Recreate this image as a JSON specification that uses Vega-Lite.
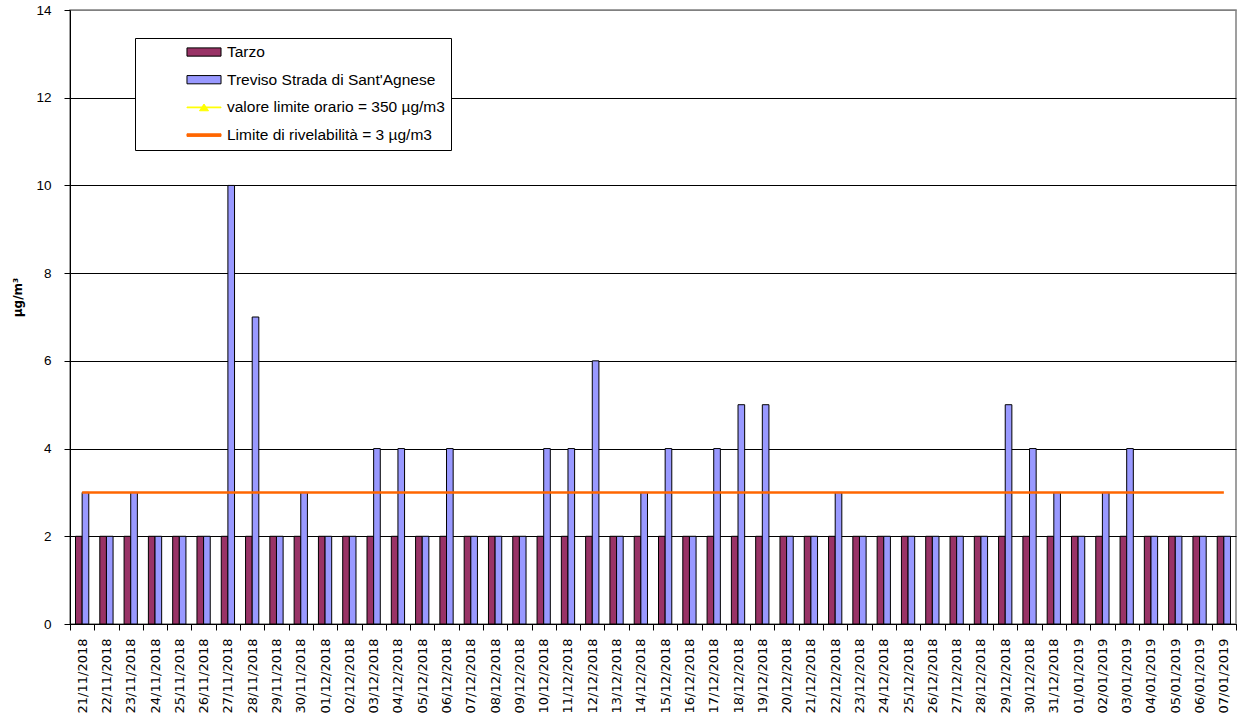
{
  "$schema": "https://vega.github.io/schema/vega-lite/v6.json",
  "width": 1166,
  "height": 614,
  "autosize": "none",
  "padding": {"left": 70, "top": 10, "right": 2, "bottom": 99},
  "background": "white",
  "config": {
    "view": {"stroke": "#808080", "strokeWidth": 1.5},
    "font": "Liberation Sans",
    "axis": {"domainColor": "black", "tickColor": "black", "labelColor": "black", "titleColor": "black"}
  },
  "data": {
    "values": [
      {"data": "2018-11-21", "stazione": "Tarzo", "valore": 2}, {"data": "2018-11-21", "stazione": "Treviso Strada di Sant'Agnese", "valore": 3}, {"data": "2018-11-21", "stazione": "Limite di rivelabilità = 3 µg/m3", "valore": 3},
      {"data": "2018-11-22", "stazione": "Tarzo", "valore": 2}, {"data": "2018-11-22", "stazione": "Treviso Strada di Sant'Agnese", "valore": 2}, {"data": "2018-11-22", "stazione": "Limite di rivelabilità = 3 µg/m3", "valore": 3},
      {"data": "2018-11-23", "stazione": "Tarzo", "valore": 2}, {"data": "2018-11-23", "stazione": "Treviso Strada di Sant'Agnese", "valore": 3}, {"data": "2018-11-23", "stazione": "Limite di rivelabilità = 3 µg/m3", "valore": 3},
      {"data": "2018-11-24", "stazione": "Tarzo", "valore": 2}, {"data": "2018-11-24", "stazione": "Treviso Strada di Sant'Agnese", "valore": 2}, {"data": "2018-11-24", "stazione": "Limite di rivelabilità = 3 µg/m3", "valore": 3},
      {"data": "2018-11-25", "stazione": "Tarzo", "valore": 2}, {"data": "2018-11-25", "stazione": "Treviso Strada di Sant'Agnese", "valore": 2}, {"data": "2018-11-25", "stazione": "Limite di rivelabilità = 3 µg/m3", "valore": 3},
      {"data": "2018-11-26", "stazione": "Tarzo", "valore": 2}, {"data": "2018-11-26", "stazione": "Treviso Strada di Sant'Agnese", "valore": 2}, {"data": "2018-11-26", "stazione": "Limite di rivelabilità = 3 µg/m3", "valore": 3},
      {"data": "2018-11-27", "stazione": "Tarzo", "valore": 2}, {"data": "2018-11-27", "stazione": "Treviso Strada di Sant'Agnese", "valore": 10}, {"data": "2018-11-27", "stazione": "Limite di rivelabilità = 3 µg/m3", "valore": 3},
      {"data": "2018-11-28", "stazione": "Tarzo", "valore": 2}, {"data": "2018-11-28", "stazione": "Treviso Strada di Sant'Agnese", "valore": 7}, {"data": "2018-11-28", "stazione": "Limite di rivelabilità = 3 µg/m3", "valore": 3},
      {"data": "2018-11-29", "stazione": "Tarzo", "valore": 2}, {"data": "2018-11-29", "stazione": "Treviso Strada di Sant'Agnese", "valore": 2}, {"data": "2018-11-29", "stazione": "Limite di rivelabilità = 3 µg/m3", "valore": 3},
      {"data": "2018-11-30", "stazione": "Tarzo", "valore": 2}, {"data": "2018-11-30", "stazione": "Treviso Strada di Sant'Agnese", "valore": 3}, {"data": "2018-11-30", "stazione": "Limite di rivelabilità = 3 µg/m3", "valore": 3},
      {"data": "2018-12-01", "stazione": "Tarzo", "valore": 2}, {"data": "2018-12-01", "stazione": "Treviso Strada di Sant'Agnese", "valore": 2}, {"data": "2018-12-01", "stazione": "Limite di rivelabilità = 3 µg/m3", "valore": 3},
      {"data": "2018-12-02", "stazione": "Tarzo", "valore": 2}, {"data": "2018-12-02", "stazione": "Treviso Strada di Sant'Agnese", "valore": 2}, {"data": "2018-12-02", "stazione": "Limite di rivelabilità = 3 µg/m3", "valore": 3},
      {"data": "2018-12-03", "stazione": "Tarzo", "valore": 2}, {"data": "2018-12-03", "stazione": "Treviso Strada di Sant'Agnese", "valore": 4}, {"data": "2018-12-03", "stazione": "Limite di rivelabilità = 3 µg/m3", "valore": 3},
      {"data": "2018-12-04", "stazione": "Tarzo", "valore": 2}, {"data": "2018-12-04", "stazione": "Treviso Strada di Sant'Agnese", "valore": 4}, {"data": "2018-12-04", "stazione": "Limite di rivelabilità = 3 µg/m3", "valore": 3},
      {"data": "2018-12-05", "stazione": "Tarzo", "valore": 2}, {"data": "2018-12-05", "stazione": "Treviso Strada di Sant'Agnese", "valore": 2}, {"data": "2018-12-05", "stazione": "Limite di rivelabilità = 3 µg/m3", "valore": 3},
      {"data": "2018-12-06", "stazione": "Tarzo", "valore": 2}, {"data": "2018-12-06", "stazione": "Treviso Strada di Sant'Agnese", "valore": 4}, {"data": "2018-12-06", "stazione": "Limite di rivelabilità = 3 µg/m3", "valore": 3},
      {"data": "2018-12-07", "stazione": "Tarzo", "valore": 2}, {"data": "2018-12-07", "stazione": "Treviso Strada di Sant'Agnese", "valore": 2}, {"data": "2018-12-07", "stazione": "Limite di rivelabilità = 3 µg/m3", "valore": 3},
      {"data": "2018-12-08", "stazione": "Tarzo", "valore": 2}, {"data": "2018-12-08", "stazione": "Treviso Strada di Sant'Agnese", "valore": 2}, {"data": "2018-12-08", "stazione": "Limite di rivelabilità = 3 µg/m3", "valore": 3},
      {"data": "2018-12-09", "stazione": "Tarzo", "valore": 2}, {"data": "2018-12-09", "stazione": "Treviso Strada di Sant'Agnese", "valore": 2}, {"data": "2018-12-09", "stazione": "Limite di rivelabilità = 3 µg/m3", "valore": 3},
      {"data": "2018-12-10", "stazione": "Tarzo", "valore": 2}, {"data": "2018-12-10", "stazione": "Treviso Strada di Sant'Agnese", "valore": 4}, {"data": "2018-12-10", "stazione": "Limite di rivelabilità = 3 µg/m3", "valore": 3},
      {"data": "2018-12-11", "stazione": "Tarzo", "valore": 2}, {"data": "2018-12-11", "stazione": "Treviso Strada di Sant'Agnese", "valore": 4}, {"data": "2018-12-11", "stazione": "Limite di rivelabilità = 3 µg/m3", "valore": 3},
      {"data": "2018-12-12", "stazione": "Tarzo", "valore": 2}, {"data": "2018-12-12", "stazione": "Treviso Strada di Sant'Agnese", "valore": 6}, {"data": "2018-12-12", "stazione": "Limite di rivelabilità = 3 µg/m3", "valore": 3},
      {"data": "2018-12-13", "stazione": "Tarzo", "valore": 2}, {"data": "2018-12-13", "stazione": "Treviso Strada di Sant'Agnese", "valore": 2}, {"data": "2018-12-13", "stazione": "Limite di rivelabilità = 3 µg/m3", "valore": 3},
      {"data": "2018-12-14", "stazione": "Tarzo", "valore": 2}, {"data": "2018-12-14", "stazione": "Treviso Strada di Sant'Agnese", "valore": 3}, {"data": "2018-12-14", "stazione": "Limite di rivelabilità = 3 µg/m3", "valore": 3},
      {"data": "2018-12-15", "stazione": "Tarzo", "valore": 2}, {"data": "2018-12-15", "stazione": "Treviso Strada di Sant'Agnese", "valore": 4}, {"data": "2018-12-15", "stazione": "Limite di rivelabilità = 3 µg/m3", "valore": 3},
      {"data": "2018-12-16", "stazione": "Tarzo", "valore": 2}, {"data": "2018-12-16", "stazione": "Treviso Strada di Sant'Agnese", "valore": 2}, {"data": "2018-12-16", "stazione": "Limite di rivelabilità = 3 µg/m3", "valore": 3},
      {"data": "2018-12-17", "stazione": "Tarzo", "valore": 2}, {"data": "2018-12-17", "stazione": "Treviso Strada di Sant'Agnese", "valore": 4}, {"data": "2018-12-17", "stazione": "Limite di rivelabilità = 3 µg/m3", "valore": 3},
      {"data": "2018-12-18", "stazione": "Tarzo", "valore": 2}, {"data": "2018-12-18", "stazione": "Treviso Strada di Sant'Agnese", "valore": 5}, {"data": "2018-12-18", "stazione": "Limite di rivelabilità = 3 µg/m3", "valore": 3},
      {"data": "2018-12-19", "stazione": "Tarzo", "valore": 2}, {"data": "2018-12-19", "stazione": "Treviso Strada di Sant'Agnese", "valore": 5}, {"data": "2018-12-19", "stazione": "Limite di rivelabilità = 3 µg/m3", "valore": 3},
      {"data": "2018-12-20", "stazione": "Tarzo", "valore": 2}, {"data": "2018-12-20", "stazione": "Treviso Strada di Sant'Agnese", "valore": 2}, {"data": "2018-12-20", "stazione": "Limite di rivelabilità = 3 µg/m3", "valore": 3},
      {"data": "2018-12-21", "stazione": "Tarzo", "valore": 2}, {"data": "2018-12-21", "stazione": "Treviso Strada di Sant'Agnese", "valore": 2}, {"data": "2018-12-21", "stazione": "Limite di rivelabilità = 3 µg/m3", "valore": 3},
      {"data": "2018-12-22", "stazione": "Tarzo", "valore": 2}, {"data": "2018-12-22", "stazione": "Treviso Strada di Sant'Agnese", "valore": 3}, {"data": "2018-12-22", "stazione": "Limite di rivelabilità = 3 µg/m3", "valore": 3},
      {"data": "2018-12-23", "stazione": "Tarzo", "valore": 2}, {"data": "2018-12-23", "stazione": "Treviso Strada di Sant'Agnese", "valore": 2}, {"data": "2018-12-23", "stazione": "Limite di rivelabilità = 3 µg/m3", "valore": 3},
      {"data": "2018-12-24", "stazione": "Tarzo", "valore": 2}, {"data": "2018-12-24", "stazione": "Treviso Strada di Sant'Agnese", "valore": 2}, {"data": "2018-12-24", "stazione": "Limite di rivelabilità = 3 µg/m3", "valore": 3},
      {"data": "2018-12-25", "stazione": "Tarzo", "valore": 2}, {"data": "2018-12-25", "stazione": "Treviso Strada di Sant'Agnese", "valore": 2}, {"data": "2018-12-25", "stazione": "Limite di rivelabilità = 3 µg/m3", "valore": 3},
      {"data": "2018-12-26", "stazione": "Tarzo", "valore": 2}, {"data": "2018-12-26", "stazione": "Treviso Strada di Sant'Agnese", "valore": 2}, {"data": "2018-12-26", "stazione": "Limite di rivelabilità = 3 µg/m3", "valore": 3},
      {"data": "2018-12-27", "stazione": "Tarzo", "valore": 2}, {"data": "2018-12-27", "stazione": "Treviso Strada di Sant'Agnese", "valore": 2}, {"data": "2018-12-27", "stazione": "Limite di rivelabilità = 3 µg/m3", "valore": 3},
      {"data": "2018-12-28", "stazione": "Tarzo", "valore": 2}, {"data": "2018-12-28", "stazione": "Treviso Strada di Sant'Agnese", "valore": 2}, {"data": "2018-12-28", "stazione": "Limite di rivelabilità = 3 µg/m3", "valore": 3},
      {"data": "2018-12-29", "stazione": "Tarzo", "valore": 2}, {"data": "2018-12-29", "stazione": "Treviso Strada di Sant'Agnese", "valore": 5}, {"data": "2018-12-29", "stazione": "Limite di rivelabilità = 3 µg/m3", "valore": 3},
      {"data": "2018-12-30", "stazione": "Tarzo", "valore": 2}, {"data": "2018-12-30", "stazione": "Treviso Strada di Sant'Agnese", "valore": 4}, {"data": "2018-12-30", "stazione": "Limite di rivelabilità = 3 µg/m3", "valore": 3},
      {"data": "2018-12-31", "stazione": "Tarzo", "valore": 2}, {"data": "2018-12-31", "stazione": "Treviso Strada di Sant'Agnese", "valore": 3}, {"data": "2018-12-31", "stazione": "Limite di rivelabilità = 3 µg/m3", "valore": 3},
      {"data": "2019-01-01", "stazione": "Tarzo", "valore": 2}, {"data": "2019-01-01", "stazione": "Treviso Strada di Sant'Agnese", "valore": 2}, {"data": "2019-01-01", "stazione": "Limite di rivelabilità = 3 µg/m3", "valore": 3},
      {"data": "2019-01-02", "stazione": "Tarzo", "valore": 2}, {"data": "2019-01-02", "stazione": "Treviso Strada di Sant'Agnese", "valore": 3}, {"data": "2019-01-02", "stazione": "Limite di rivelabilità = 3 µg/m3", "valore": 3},
      {"data": "2019-01-03", "stazione": "Tarzo", "valore": 2}, {"data": "2019-01-03", "stazione": "Treviso Strada di Sant'Agnese", "valore": 4}, {"data": "2019-01-03", "stazione": "Limite di rivelabilità = 3 µg/m3", "valore": 3},
      {"data": "2019-01-04", "stazione": "Tarzo", "valore": 2}, {"data": "2019-01-04", "stazione": "Treviso Strada di Sant'Agnese", "valore": 2}, {"data": "2019-01-04", "stazione": "Limite di rivelabilità = 3 µg/m3", "valore": 3},
      {"data": "2019-01-05", "stazione": "Tarzo", "valore": 2}, {"data": "2019-01-05", "stazione": "Treviso Strada di Sant'Agnese", "valore": 2}, {"data": "2019-01-05", "stazione": "Limite di rivelabilità = 3 µg/m3", "valore": 3},
      {"data": "2019-01-06", "stazione": "Tarzo", "valore": 2}, {"data": "2019-01-06", "stazione": "Treviso Strada di Sant'Agnese", "valore": 2}, {"data": "2019-01-06", "stazione": "Limite di rivelabilità = 3 µg/m3", "valore": 3},
      {"data": "2019-01-07", "stazione": "Tarzo", "valore": 2}, {"data": "2019-01-07", "stazione": "Treviso Strada di Sant'Agnese", "valore": 2}, {"data": "2019-01-07", "stazione": "Limite di rivelabilità = 3 µg/m3", "valore": 3}
    ]
  },
  "encoding": {
    "x": {
      "field": "data",
      "type": "ordinal",
      "timeUnit": "utcyearmonthdate",
      "scale": {"paddingInner": 0, "paddingOuter": 0},
      "axis": {
        "title": null,
        "format": "%d/%m/%Y",
        "labelAngle": 270,
        "labelFont": "DejaVu Sans",
        "labelFontSize": 13,
        "labelPadding": 8,
        "tickBand": "extent",
        "tickSize": 6,
        "domainColor": "black",
        "grid": false
      }
    },
    "y": {
      "field": "valore",
      "type": "quantitative",
      "scale": {"domain": [0, 14], "nice": false},
      "axis": {
        "title": "µg/m³",
        "titleFont": "DejaVu Sans",
        "titleFontWeight": "bold",
        "titleFontSize": 12,
        "titleX": -53,
        "titleY": 287,
        "titleAlign": "center",
        "titleBaseline": "middle",
        "values": [0, 2, 4, 6, 8, 10, 12, 14],
        "labelFont": "Liberation Sans",
        "labelFontSize": 13.5,
        "labelPadding": 13,
        "tickSize": 6,
        "grid": true,
        "gridColor": {"condition": {"test": "datum.value == 14", "value": "#808080"}, "value": "black"},
        "gridWidth": 1
      }
    }
  },
  "layer": [
    {
      "transform": [{"filter": "datum.stazione == 'Tarzo' || indexof(datum.stazione, 'Treviso') == 0"}],
      "mark": {"type": "bar", "stroke": "black", "strokeWidth": 1},
      "encoding": {
        "xOffset": {
          "field": "stazione",
          "type": "nominal",
          "sort": ["Tarzo", "Treviso Strada di Sant'Agnese"],
          "scale": {"paddingInner": 0, "paddingOuter": 0.83}
        },
        "color": {
          "field": "stazione",
          "type": "nominal",
          "scale": {
            "domain": ["Tarzo", "Treviso Strada di Sant'Agnese", "valore limite orario = 350 µg/m3", "Limite di rivelabilità = 3 µg/m3"],
            "range": ["#993366", "#9999FF", "#FFFF00", "#FF6600"]
          },
          "legend": {
            "orient": "none",
            "legendX": 65,
            "legendY": 28,
            "direction": "vertical",
            "title": null,
            "strokeColor": "black",
            "fillColor": "white",
            "padding": 6,
            "labelFont": "Liberation Sans",
            "labelFontSize": 15.5,
            "labelColor": "black",
            "labelLimit": 400,
            "symbolSize": 225,
            "symbolOffset": 55,
            "symbolStrokeWidth": 1,
            "symbolOpacity": 1,
            "labelOffset": 15,
            "rowPadding": 10.7
          }
        }
      }
    },
    {
      "transform": [{"filter": "indexof(datum.stazione, 'Limite') == 0"}],
      "mark": {"type": "line", "strokeWidth": 2.5, "color": "#FF6600"}
    },
    {
      "transform": [{"filter": "false"}],
      "mark": {"type": "point", "filled": true},
      "encoding": {
        "color": {"field": "stazione", "type": "nominal", "legend": {"title": null}},
        "shape": {
          "field": "stazione",
          "type": "nominal",
          "scale": {
            "domain": ["Tarzo", "Treviso Strada di Sant'Agnese", "valore limite orario = 350 µg/m3", "Limite di rivelabilità = 3 µg/m3"],
            "range": [
              "M-2.27,-0.55H2.27V0.55H-2.27Z",
              "M-2.27,-0.55H2.27V0.55H-2.27Z",
              "M-2.27,-0.05H2.27V0.05H-2.27ZM-0.6,0.45L0,-0.45L0.6,0.45Z",
              "M-2.27,-0.17H2.27V0.17H-2.27Z"
            ]
          },
          "legend": {"title": null}
        },
        "stroke": {
          "field": "stazione",
          "type": "nominal",
          "scale": {
            "domain": ["Tarzo", "Treviso Strada di Sant'Agnese", "valore limite orario = 350 µg/m3", "Limite di rivelabilità = 3 µg/m3"],
            "range": ["black", "black", "#FFFF00", "#FF6600"]
          },
          "legend": {"title": null}
        }
      }
    }
  ]
}
